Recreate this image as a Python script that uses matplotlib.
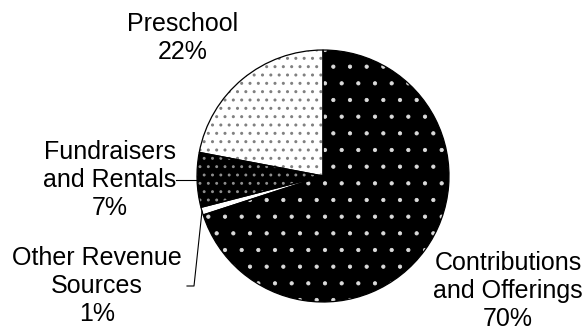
import numpy as np
import matplotlib
matplotlib.use('Agg')
import matplotlib.pyplot as plt

plt.rcParams['font.family'] = ['Liberation Sans', 'DejaVu Sans']
plt.rcParams['hatch.linewidth'] = 0.6

labels = ['Contributions\nand Offerings', 'Other Revenue\nSources', 'Fundraisers\nand Rentals', 'Preschool']
values = [70, 1, 7, 22]

face = ['black', 'white', 'black', 'white']
dots = ['#dcdcdc', 'white', '#8f8f8f', '#808080']
hatches = ['.', '', '..', '..']
dot_lw = [0.6, 0.6, 0.9, 1.0]

# text placement (pixel coords, y down)
text_pos = [(508, 291), (97, 286), (110, 180), (183, 38)]

W, H = 585, 331
cx, cy, r = 323, H - 176, 126

fig = plt.figure(figsize=(W / 100, H / 100), dpi=100)
ax = fig.add_axes([0, 0, 1, 1])

# pie with hatch dots (hatch colour follows edgecolor)
wedges, _ = ax.pie(values, startangle=90, counterclock=False, center=(cx, cy),
                   radius=r, colors=face, hatch=hatches,
                   wedgeprops=dict(linewidth=0))
for w, c, lw in zip(wedges, dots, dot_lw):
    w.set_edgecolor(c)
    w.set_linewidth(0)
    if hasattr(w, 'set_hatch_linewidth'):
        w.set_hatch_linewidth(lw)

# outlines on top
ax.pie(values, startangle=90, counterclock=False, center=(cx, cy), radius=r,
       colors=['none'] * 4, wedgeprops=dict(edgecolor='black', linewidth=0.9))
ax.set_xlim(0, W)
ax.set_ylim(0, H)
ax.set_aspect('auto')
ax.axis('off')

for i, (lab, v) in enumerate(zip(labels, values)):
    tx, ty = text_pos[i]
    ax.text(tx, H - ty, '%s\n%d%%' % (lab, v), ha='center', va='center',
            fontsize=18, linespacing=1.22)

# leader lines for the two small slices
def edge_point(k):
    w = wedges[k]
    ang = np.deg2rad((w.theta1 + w.theta2) / 2)
    return cx + r * np.cos(ang), cy + r * np.sin(ang)

ex, ey = edge_point(2)
ax.plot([176, ex], [ey, ey], color='black', lw=0.8)
ex, ey = edge_point(1)
ax.plot([187, 194, ex], [H - 286, H - 286, ey], color='black', lw=0.8)

fig.savefig('out.png', dpi=100)
